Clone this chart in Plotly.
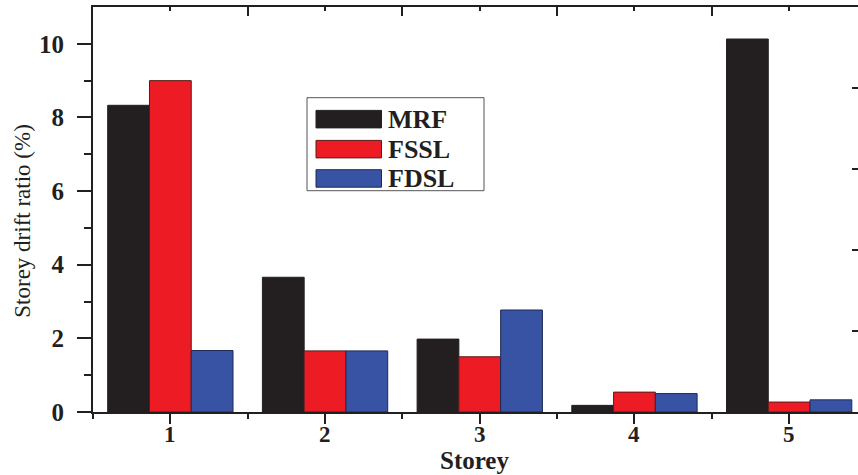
import plotly.graph_objects as go

# ---- data ----
storeys = [1, 2, 3, 4, 5]
series_names = ["MRF", "FSSL", "FDSL"]
mrf = [8.33, 3.66, 1.98, 0.18, 10.13]
fssl = [9.00, 1.66, 1.50, 0.54, 0.27]
fdsl = [1.67, 1.66, 2.77, 0.50, 0.33]
y_ticks = [0, 2, 4, 6, 8, 10]
colors = ["#231f20", "#ed1c24", "#3953a4"]
outlines = ["#231f20", "#5a1a1a", "#1f2a55"]

W, H = 858, 475
L, R, T, B = 93, 858, 7.3, 412.3

def px_x(px):
    return (px - L) / (R - L)

def px_y(py):
    return (B - py) / (B - T)

FONT_B = "Liberation Serif"

fig = go.Figure()
for name, vals, c, oc in zip(series_names, [mrf, fssl, fdsl], colors, outlines):
    fig.add_trace(go.Bar(x=storeys, y=vals, name=name, marker=dict(color=c, line=dict(color=oc, width=1)),
                         showlegend=False))

# invisible trace for overlay axes
fig.add_trace(go.Scatter(x=[1], y=[1], xaxis="x2", yaxis="y2", mode="markers",
                         marker=dict(opacity=0), showlegend=False, hoverinfo="skip"))

fig.update_layout(
    width=W, height=H,
    margin=dict(l=L, r=W - R, t=T, b=H - B),
    paper_bgcolor="white", plot_bgcolor="white",
    barmode="group", bargap=0.19, bargroupgap=0,
    xaxis=dict(range=[0.5, 5.445], tickvals=storeys, showticklabels=False,
               ticks="outside", ticklen=10, tickwidth=2, tickcolor="#231f20",
               minor=dict(tickvals=[0.5, 1.5, 2.5, 3.5, 4.5], ticks="outside", ticklen=5,
                          tickwidth=2, tickcolor="#231f20", showgrid=False),
               showline=True, linewidth=2, linecolor="#231f20", showgrid=False, zeroline=False),
    yaxis=dict(range=[0, 11], tickvals=y_ticks, ticks="outside", ticklen=14, tickwidth=2,
               tickcolor="#231f20", ticklabelstandoff=8,
               minor=dict(tickvals=[1, 3, 5, 7, 9], ticks="outside", ticklen=7, tickwidth=2,
                          tickcolor="#231f20", showgrid=False),
               showline=True, linewidth=2, linecolor="#231f20", showgrid=False, zeroline=False,
               tickfont=dict(family=FONT_B, size=25, color="#231f20", weight="bold")),
    xaxis2=dict(overlaying="x", side="top", range=[0.5, 5.445],
                tickvals=[0.5, 1.5, 2.5, 3.5, 4.5], ticks="inside", ticklen=9, tickwidth=2,
                tickcolor="#231f20", showticklabels=False,
                minor=dict(tickvals=storeys, ticks="inside", ticklen=4, tickwidth=2,
                           tickcolor="#231f20", showgrid=False),
                showline=True, linewidth=2, linecolor="#231f20", showgrid=False, zeroline=False),
    yaxis2=dict(overlaying="y", side="right", range=[0, 5], tickvals=[1, 2, 3, 4],
                ticks="inside", ticklen=6, tickwidth=2, tickcolor="#231f20",
                showticklabels=False, showline=False, showgrid=False, zeroline=False),
)

# x tick labels (placed just under the ticks)
for s in storeys:
    fig.add_annotation(text=str(s), xref="x", yref="paper", x=s, y=px_y(435),
                       xanchor="center", yanchor="middle", showarrow=False,
                       font=dict(family=FONT_B, size=23, color="#231f20", weight="bold"))

# axis titles
fig.add_annotation(text="Storey", xref="paper", yref="paper", x=px_x(474), y=px_y(461),
                   xanchor="center", yanchor="middle", showarrow=False,
                   font=dict(family=FONT_B, size=25, color="#231f20", weight="bold"))
fig.add_annotation(text="Storey drift ratio (%)", xref="paper", yref="paper", x=px_x(23), y=px_y(221),
                   xanchor="center", yanchor="middle", showarrow=False, textangle=-90,
                   font=dict(family="Liberation Serif", size=23, color="#231f20"))

# legend (manual, large swatches)
fig.add_shape(type="rect", xref="paper", yref="paper", x0=px_x(307), x1=px_x(484),
              y0=px_y(191), y1=px_y(98), line=dict(color="#555555", width=1), fillcolor="white")
row_tops = [110.7, 140.7, 170.0]
for name, c, oc, top in zip(series_names, colors, outlines, row_tops):
    fig.add_shape(type="rect", xref="paper", yref="paper", x0=px_x(316), x1=px_x(381.5),
                  y0=px_y(top + 17.5), y1=px_y(top), line=dict(color=oc, width=1), fillcolor=c)
    fig.add_annotation(text=name, xref="paper", yref="paper", x=px_x(386), y=px_y(top + 9),
                       xanchor="left", yanchor="middle", showarrow=False,
                       font=dict(family=FONT_B, size=26, color="#231f20", weight="bold"))

fig.write_html("out.html")
